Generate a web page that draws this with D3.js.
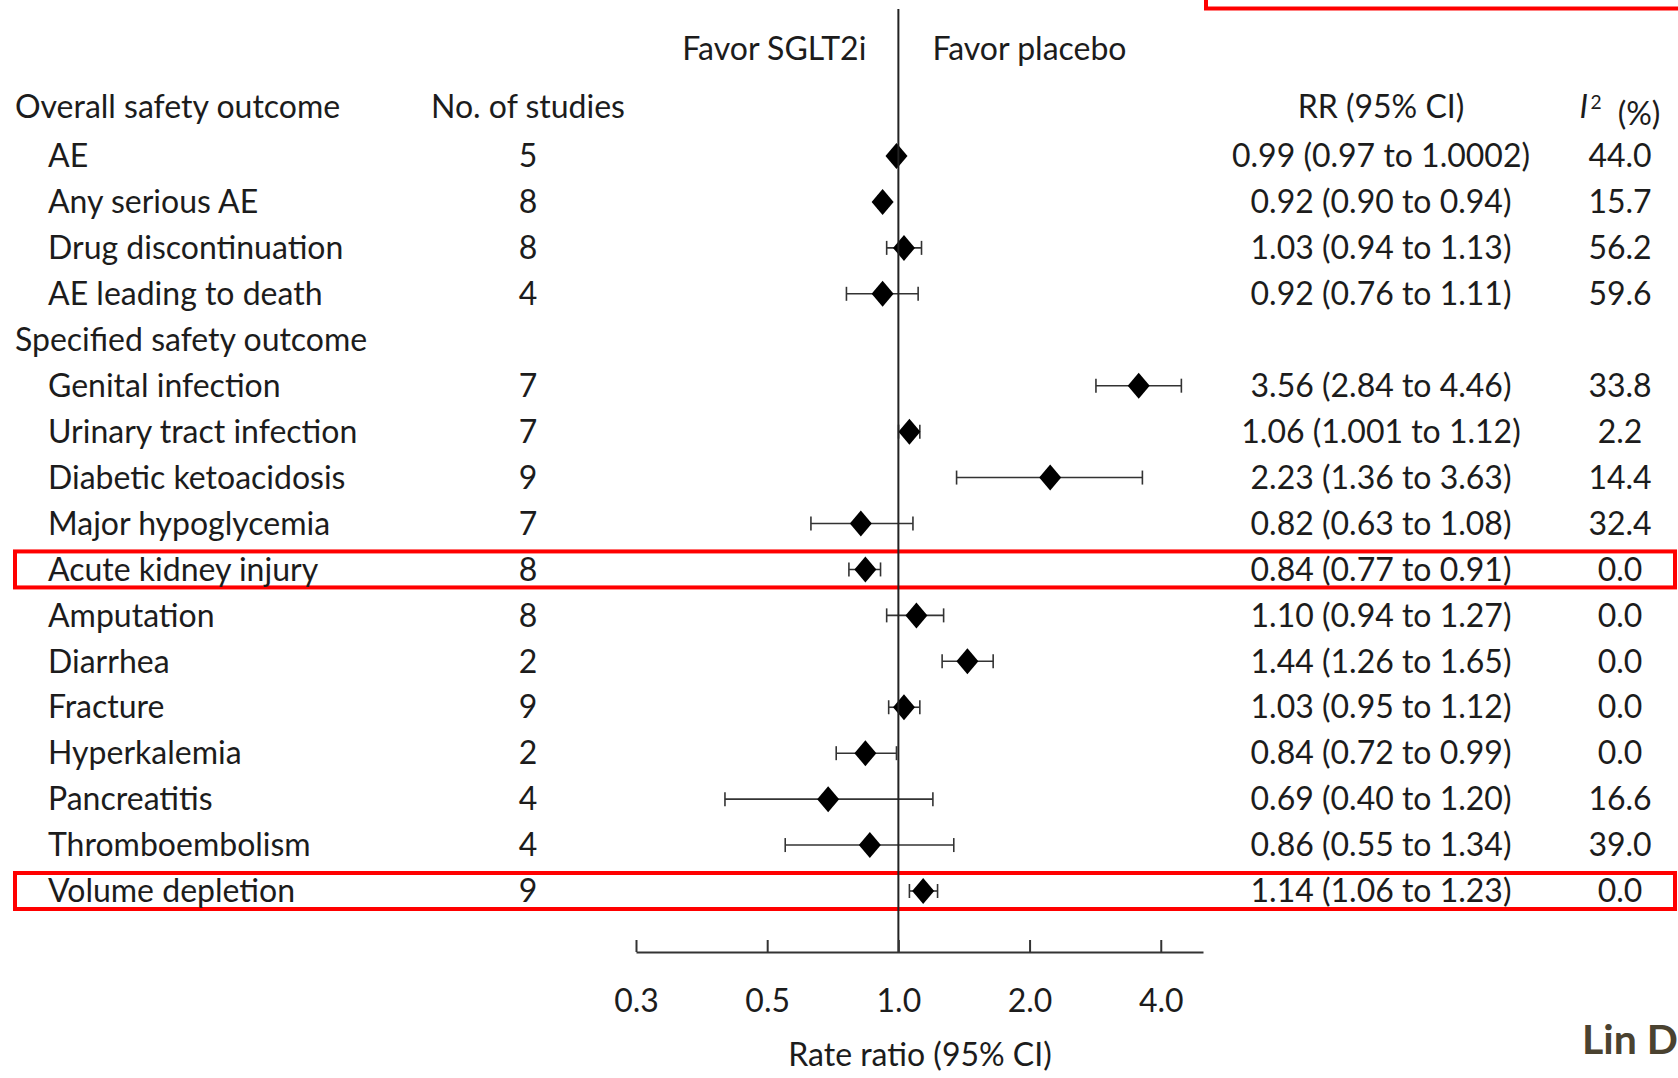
<!DOCTYPE html>
<meta charset="utf-8">
<head>
  <title>Forest plot - SGLT2i safety outcomes</title>
  <script src="https://d3js.org/d3.v7.min.js"></script>
</head>
<style>
  body { margin: 0; background: #fff; }
  svg { display: block; }
  text { font-family: Lato, "Open Sans", sans-serif; fill: #1c1c1c; }
</style>
<body>
<svg></svg>
<script>

// rows of the table (group headers have no values)
const labels = ["AE", "Any serious AE", "Drug discontinuation", "AE leading to death",
  "Specified safety outcome",
  "Genital infection", "Urinary tract infection", "Diabetic ketoacidosis", "Major hypoglycemia",
  "Acute kidney injury", "Amputation", "Diarrhea", "Fracture", "Hyperkalemia",
  "Pancreatitis", "Thromboembolism", "Volume depletion"];
const studies = [5, 8, 8, 4, null, 7, 7, 9, 7, 8, 8, 2, 9, 2, 4, 4, 9];
const rr = [0.99, 0.92, 1.03, 0.92, null, 3.56, 1.06, 2.23, 0.82, 0.84, 1.10, 1.44, 1.03, 0.84, 0.69, 0.86, 1.14];
const lo = [0.97, 0.90, 0.94, 0.76, null, 2.84, 1.001, 1.36, 0.63, 0.77, 0.94, 1.26, 0.95, 0.72, 0.40, 0.55, 1.06];
const hi = [1.0002, 0.94, 1.13, 1.11, null, 4.46, 1.12, 3.63, 1.08, 0.91, 1.27, 1.65, 1.12, 0.99, 1.20, 1.34, 1.23];
const i2 = [44.0, 15.7, 56.2, 59.6, null, 33.8, 2.2, 14.4, 32.4, 0.0, 0.0, 0.0, 0.0, 0.0, 16.6, 39.0, 0.0];
const highlighted = ["Acute kidney injury", "Volume depletion"];

// axis ticks (log2 scale, 0.25 is printed as 0.3)
const tickValues = [0.25, 0.5, 1, 2, 4];
const tickLabels = ["0.3", "0.5", "1.0", "2.0", "4.0"];

const W = 1678, H = 1078;
const fs = 32;

const svg = d3.select("svg").attr("width", W).attr("height", H);

const x = d3.scaleLog().base(2).domain([0.25, 5]).range([636, 1203]);
const y = d3.scalePoint().domain(d3.range(labels.length)).range([156, 891]);
const axisY = 952;
const headerY = 107;

function fmt(v) {
  let s = v.toFixed(2);
  if (+s !== v) s = String(v);
  return s;
}

// red highlight boxes
svg.append("rect")
  .attr("x", 1206).attr("y", -10).attr("width", 600).attr("height", 18.5)
  .attr("fill", "none").attr("stroke", "#f00").attr("stroke-width", 4);

labels.forEach((l, i) => {
  if (highlighted.includes(l)) {
    svg.append("rect")
      .attr("x", 15).attr("y", y(i) - 18)
      .attr("width", 1660).attr("height", 36)
      .attr("fill", "none").attr("stroke", "#f00").attr("stroke-width", 4);
  }
});

// direction labels
svg.append("text").attr("x", x(1) - 32).attr("y", 49).attr("dy", "0.35em")
  .attr("text-anchor", "end").style("font-size", fs + "px").text("Favor SGLT2i");
svg.append("text").attr("x", x(1) + 34).attr("y", 49).attr("dy", "0.35em")
  .style("font-size", fs + "px").text("Favor placebo");

// column headers
svg.append("text").attr("x", 15).attr("y", headerY).attr("dy", "0.35em")
  .style("font-size", fs + "px").text("Overall safety outcome");
svg.append("text").attr("x", 528).attr("y", headerY).attr("dy", "0.35em")
  .attr("text-anchor", "middle").style("font-size", fs + "px").text("No. of studies");
svg.append("text").attr("x", 1381).attr("y", headerY).attr("dy", "0.35em")
  .attr("text-anchor", "middle").style("font-size", fs + "px").text("RR (95% CI)");
let ih = svg.append("text").attr("x", 1620).attr("y", headerY).attr("dy", "0.35em")
  .attr("text-anchor", "middle").style("font-size", fs + "px");
ih.append("tspan").style("font-style", "italic").text("I");
ih.append("tspan").attr("dy", "-0.5em").style("font-size", "0.6em").text("\u20092");
ih.append("tspan").attr("dy", "0.5em").text("\u2002(%)");

// table rows
const rows = svg.append("g").selectAll("g").data(labels).join("g")
  .attr("transform", (d, i) => `translate(0,${y(i)})`);

rows.append("text")
  .attr("x", (d, i) => studies[i] == null ? 15 : 48)
  .attr("dy", "0.35em").style("font-size", fs + "px")
  .text(d => d);

rows.filter((d, i) => studies[i] != null).append("text")
  .attr("x", 528).attr("dy", "0.35em").attr("text-anchor", "middle")
  .style("font-size", fs + "px")
  .text(d => studies[labels.indexOf(d)]);

rows.filter((d, i) => rr[i] != null).append("text")
  .attr("x", 1381).attr("dy", "0.35em").attr("text-anchor", "middle")
  .style("font-size", fs + "px")
  .text(d => { const i = labels.indexOf(d); return `${fmt(rr[i])} (${fmt(lo[i])} to ${fmt(hi[i])})`; });

rows.filter((d, i) => i2[i] != null).append("text")
  .attr("x", 1620).attr("dy", "0.35em").attr("text-anchor", "middle")
  .style("font-size", fs + "px")
  .text(d => i2[labels.indexOf(d)].toFixed(1));

// reference line at RR = 1
svg.append("line")
  .attr("x1", x(1)).attr("x2", x(1)).attr("y1", 9).attr("y2", axisY)
  .attr("stroke", "#222").attr("stroke-width", 2);

// confidence intervals
const ci = rows.filter((d, i) => rr[i] != null).append("g")
  .attr("stroke", "#333").attr("stroke-width", 1.6);
ci.append("line")
  .attr("x1", d => x(lo[labels.indexOf(d)])).attr("x2", d => x(hi[labels.indexOf(d)]));
ci.append("line")
  .attr("x1", d => x(lo[labels.indexOf(d)])).attr("x2", d => x(lo[labels.indexOf(d)]))
  .attr("y1", -7).attr("y2", 7);
ci.append("line")
  .attr("x1", d => x(hi[labels.indexOf(d)])).attr("x2", d => x(hi[labels.indexOf(d)]))
  .attr("y1", -7).attr("y2", 7);

// diamonds for the point estimates
rows.filter((d, i) => rr[i] != null).append("path")
  .attr("fill", "#000")
  .attr("d", d => {
    const cx = x(rr[labels.indexOf(d)]), w = 11, h = 13;
    return `M${cx},${-h}L${cx + w},0L${cx},${h}L${cx - w},0Z`;
  });

// x axis
const axis = svg.append("g").attr("transform", `translate(0,${axisY})`)
  .call(d3.axisBottom(x).tickValues(tickValues).tickFormat((d, i) => tickLabels[i])
    .tickSizeInner(-12).tickSizeOuter(0).tickPadding(37));
axis.select(".domain").attr("stroke", "#333").attr("stroke-width", 2);
axis.selectAll(".tick line").attr("stroke", "#333").attr("stroke-width", 2);
axis.selectAll(".tick text").style("font-size", fs + "px").style("font-family", "Lato, sans-serif").attr("fill", "#1c1c1c");

svg.append("text").attr("x", 920).attr("y", 1055).attr("dy", "0.35em")
  .attr("text-anchor", "middle").style("font-size", fs + "px").text("Rate ratio (95% CI)");

// citation, cut by the right edge
svg.append("text").attr("x", 1582).attr("y", 1040).attr("dy", "0.35em")
  .style("font-size", "41px").style("font-weight", "bold").style("fill", "#4a4230")
  .text("Lin D");

</script>
</body>
